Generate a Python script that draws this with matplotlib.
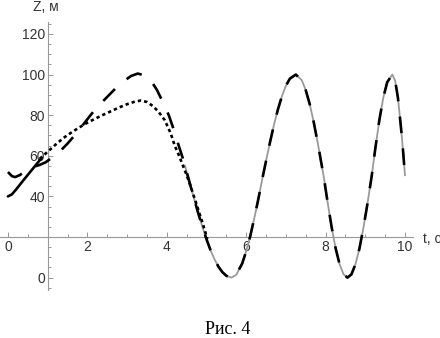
import matplotlib

matplotlib.use("Agg")
import matplotlib.pyplot as plt
from matplotlib.ticker import MultipleLocator, FixedLocator, FuncFormatter

# grey solid curve (oscillation part)
grey_t = [4.45, 4.53, 4.6, 4.7, 4.8, 4.9, 5.0, 5.1, 5.2, 5.3, 5.4, 5.5, 5.63,
          5.75, 5.9, 6.0, 6.1, 6.2, 6.3, 6.42, 6.5, 6.6, 6.7, 6.8, 6.9, 7.0, 7.1, 7.25,
          7.4, 7.5, 7.6, 7.7, 7.8, 7.95, 8.05, 8.15, 8.25, 8.35, 8.45, 8.55,
          8.65, 8.75, 8.85, 8.95, 9.05, 9.16, 9.25, 9.35, 9.45, 9.55, 9.68,
          9.75, 9.82, 9.9, 9.95, 10.0]
grey_z = [55.7, 50.0, 45.0, 38.0, 31.2, 24.8, 18.9, 13.6, 9.1, 5.4, 2.7, 0.9, 0.0,
          1.4, 7.0, 13.0, 20.3, 28.9, 38.2, 50.0, 57.5, 66.7, 75.3, 82.9, 89.4, 94.5, 98.0, 100.0,
          97.2, 92.3, 85.4, 76.6, 66.5, 50.0, 37.1, 25.0, 14.6, 6.7, 1.7, 0.0,
          1.6, 6.5, 14.2, 24.3, 36.0, 50.0, 63.4, 77.2, 88.4, 96.2, 100.0,
          97.1, 88.7, 73.5, 62.4, 50.0]

# long dashed curve, start part (then it runs along the grey one)
dash_t = [0.0, 0.1, 0.18, 0.3, 0.45, 0.6, 0.8, 0.95, 1.1, 1.3, 1.5, 1.7, 1.9, 2.1,
          2.3, 2.5, 2.7, 2.9, 3.1, 3.27, 3.45, 3.6, 3.75, 3.9, 4.05, 4.2, 4.3, 4.4]
dash_z = [52.0, 50.0, 49.5, 50.5, 52.5, 54.3, 55.5, 56.8, 59.0, 62.0, 66.0, 70.5, 75.5, 80.5,
          85.0, 89.0, 93.0, 96.5, 99.3, 100.5, 99.5, 97.0, 92.5, 86.5, 80.0, 71.5, 65.0, 59.0]

# dotted curve
dot_t = [0.8, 1.0, 1.2, 1.4, 1.6, 1.8, 2.0, 2.2, 2.4, 2.6, 2.8, 3.0, 3.2, 3.35, 3.5,
         3.65, 3.8, 3.95, 4.1, 4.2, 4.3, 4.4, 4.5, 4.6, 4.7, 4.8, 4.9, 5.02]
dot_z = [58.5, 62.0, 65.5, 68.8, 71.5, 74.0, 76.3, 78.3, 80.2, 82.0, 83.8, 85.4, 86.7, 87.2, 86.5,
         84.5, 81.5, 77.5, 71.0, 65.0, 60.5, 55.5, 50.5, 45.0, 39.0, 33.0, 27.0, 19.0]

# solid black start piece
solid_t = [0.0, 0.1, 0.2, 0.4, 0.6, 0.8, 0.85]
solid_z = [40.0, 41.0, 43.3, 48.2, 53.0, 57.8, 59.0]

x_ticks = [0, 2, 4, 6, 8, 10]
y_ticks = [0, 20, 40, 60, 80, 100, 120]

plt.rcParams["lines.scale_dashes"] = False
plt.rcParams["font.family"] = ["Liberation Sans Narrow", "Liberation Sans", "DejaVu Sans"]

fig = plt.figure(figsize=(4.4, 3.38), dpi=100)
ax = fig.add_axes([0.0, 0.1426, 0.9386, 0.793])

ax.plot(grey_t, grey_z, color="#9a9a9a", lw=1.3, solid_capstyle="butt", zorder=2)
ax.plot(solid_t, solid_z, color="black", lw=1.9, solid_capstyle="round", zorder=3)
ax.plot(dash_t + grey_t[1:], dash_z + grey_z[1:], color="black", lw=1.9,
        dashes=(12.0, 11.0), dash_capstyle="butt", zorder=3)
ax.plot(dot_t, dot_z, color="black", lw=1.9, dashes=(2.4, 2.2),
        dash_capstyle="butt", zorder=3)

ax.set_xlim(-0.2, 10.2)
ax.set_ylim(-6, 126)

for s in ["top", "right"]:
    ax.spines[s].set_visible(False)
ax.spines["left"].set_position(("data", 1))
ax.spines["bottom"].set_position(("data", 20))
for s in ["left", "bottom"]:
    ax.spines[s].set_color("#999999")
    ax.spines[s].set_linewidth(0.8)

ax.xaxis.set_major_locator(FixedLocator(x_ticks))
ax.xaxis.set_minor_locator(MultipleLocator(0.5))
ax.yaxis.set_major_locator(FixedLocator(y_ticks))
ax.yaxis.set_minor_locator(MultipleLocator(5))
ax.yaxis.set_major_formatter(FuncFormatter(lambda v, p: "" if v == 20 else f"{v:g}"))
ax.tick_params(which="both", direction="in", color="#999999", width=0.7,
               labelsize=10, labelcolor="#333333", pad=2)
ax.tick_params(which="major", length=3.5)
ax.tick_params(which="minor", length=2)

fig.text(33 / 440, 1 - 7 / 338, "Z, м", fontsize=10, color="#333333", va="center", ha="left")
fig.text(423 / 440, 1 - 239 / 338, "t, с", fontsize=10, color="#333333", va="center", ha="left")
fig.text(228 / 440, 1 - 330 / 338, "Рис. 4", fontsize=13, family="Liberation Serif",
         va="center", ha="center")

fig.savefig("out.png", dpi=100)
